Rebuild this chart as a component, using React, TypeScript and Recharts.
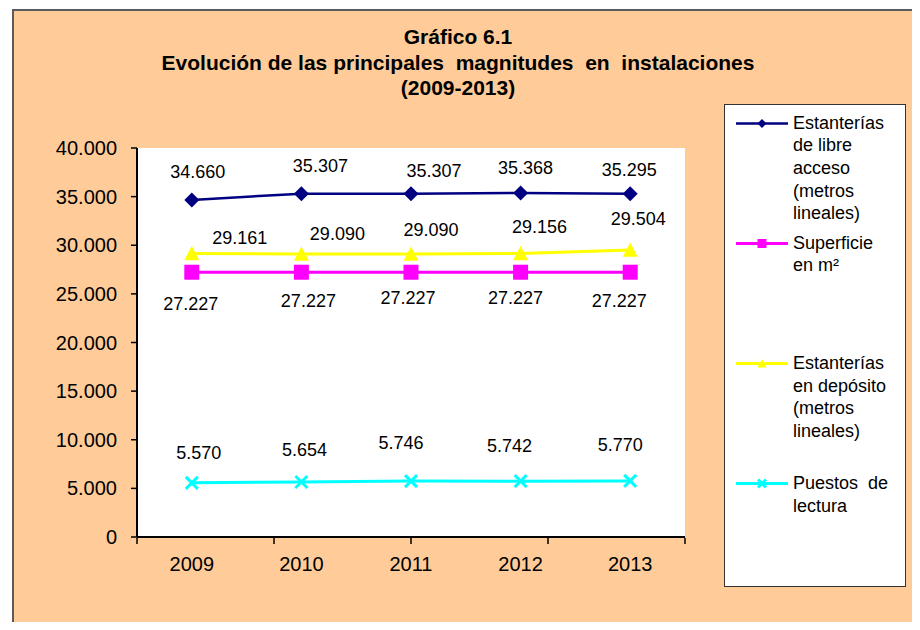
import React from 'react';
import { LineChart, Line, XAxis, YAxis, CartesianGrid, Legend, LabelList } from 'recharts';

// Gráfico 6.1 — evolución de las magnitudes de instalaciones, estilo Excel clásico.

const years = ['2009', '2010', '2011', '2012', '2013'];
const libreAcceso = [34660, 35307, 35307, 35368, 35295];
const superficie = [27227, 27227, 27227, 27227, 27227];
const deposito = [29161, 29090, 29090, 29156, 29504];
const puestos = [5570, 5654, 5746, 5742, 5770];
const yTicks = [0, 5000, 10000, 15000, 20000, 25000, 30000, 35000, 40000];
const titleLines = ['Gráfico 6.1', 'Evolución de las principales  magnitudes  en  instalaciones', '(2009-2013)'];

const FONT = '"Liberation Sans", Arial, sans-serif';
const PEACH = '#FFCC99';

type Shape = 'diamond' | 'square' | 'triangle' | 'cross';

// posición de cada etiqueta respecto a su punto (como quedaron en la hoja)
const series: Array<{
  key: string;
  name: string;
  color: string;
  width: number;
  shape: Shape;
  nudge: Array<[number, number]>;
}> = [
  { key: 'libre', name: 'Estanterías de libre acceso (metros lineales)', color: '#000080', width: 2.5, shape: 'diamond',
    nudge: [[6, -28], [19, -28], [23, -23], [5, -25], [-1, -24]] },
  { key: 'superficie', name: 'Superficie en m²', color: '#FF00FF', width: 3, shape: 'square',
    nudge: [[-1, 32], [7, 29], [-3, 26], [-5, 26], [-11, 29]] },
  { key: 'deposito', name: 'Estanterías en depósito (metros lineales)', color: '#FFFF00', width: 3, shape: 'triangle',
    nudge: [[48, -15], [36, -20], [20, -24], [19, -26], [8, -31]] },
  { key: 'puestos', name: 'Puestos  de lectura', color: '#00FFFF', width: 3, shape: 'cross',
    nudge: [[7, -30], [3, -32], [-10, -38], [-11, -35], [-10, -36]] },
];

const data = years.map((year, i) => ({
  year,
  libre: libreAcceso[i],
  superficie: superficie[i],
  deposito: deposito[i],
  puestos: puestos[i],
}));

const fmt = (v: number) => String(v).replace(/\B(?=(\d{3})+(?!\d))/g, '.');

function Marker({ shape, cx, cy, r, color }: { shape: Shape; cx: number; cy: number; r: number; color: string }) {
  if (shape === 'diamond') {
    return <polygon points={`${cx},${cy - r} ${cx + r},${cy} ${cx},${cy + r} ${cx - r},${cy}`} fill={color} />;
  }
  if (shape === 'square') {
    return <rect x={cx - r} y={cy - r} width={r * 2} height={r * 2} fill={color} />;
  }
  if (shape === 'triangle') {
    return <polygon points={`${cx},${cy - r} ${cx + r},${cy + r * 0.9} ${cx - r},${cy + r * 0.9}`} fill={color} />;
  }
  return (
    <g stroke={color} strokeWidth={3}>
      <line x1={cx - r} y1={cy - r} x2={cx + r} y2={cy + r} />
      <line x1={cx - r} y1={cy + r} x2={cx + r} y2={cy - r} />
    </g>
  );
}

function LegendBox({ payload }: any) {
  const shown = new Set((payload || []).map((p: any) => p.dataKey));
  const entries = series.filter(s => shown.size === 0 || shown.has(s.key));
  return (
    <div
      style={{
        width: 182,
        height: 483,
        boxSizing: 'border-box',
        border: '1px solid #333',
        background: '#fff',
        display: 'flex',
        flexDirection: 'column',
        fontFamily: FONT,
        fontSize: 18,
        lineHeight: '22.7px',
        color: '#000',
      }}
    >
      {entries.map(s => (
        <div key={s.key} style={{ flex: 1, display: 'flex', alignItems: 'flex-start', paddingTop: 6.5 }}>
          <svg width={52} height={23} style={{ marginLeft: 11, flex: 'none' }}>
            <line x1={0} y1={11.5} x2={52} y2={11.5} stroke={s.color} strokeWidth={s.width} />
            <Marker shape={s.shape} cx={26} cy={11.5} r={s.shape === 'cross' ? 4 : 4.5} color={s.color} />
          </svg>
          <div style={{ marginLeft: 5, width: 104, whiteSpace: 'pre-wrap' }}>{s.name}</div>
        </div>
      ))}
    </div>
  );
}

function makeLabel(nudge: Array<[number, number]>) {
  return (p: any) => {
    const [dx, dy] = nudge[p.index] || [0, -20];
    return (
      <text
        key={`lbl-${p.index}`}
        x={Number(p.x) + dx}
        y={Number(p.y) + dy}
        textAnchor="middle"
        dominantBaseline="central"
        fontFamily={FONT}
        fontSize={18}
        fill="#000"
      >
        {fmt(Number(p.value))}
      </text>
    );
  };
}

export default function App() {
  return (
    <div style={{ position: 'relative', width: 920, height: 630, overflow: 'hidden', background: '#fff', margin: -8 }}>
      <div
        style={{
          position: 'absolute',
          left: 12,
          top: 9,
          width: 920,
          height: 630,
          background: PEACH,
          borderLeft: '2px solid #5b5b5b',
          borderTop: '2px solid #5b5b5b',
        }}
      />
      <div
        style={{
          position: 'absolute',
          left: 0,
          top: 24,
          width: 916,
          textAlign: 'center',
          fontFamily: FONT,
          fontWeight: 'bold',
          fontSize: 21,
          lineHeight: '25.5px',
          color: '#000',
          whiteSpace: 'pre',
        }}
      >
        {titleLines.map(t => (
          <div key={t}>{t}</div>
        ))}
      </div>
      <div style={{ position: 'absolute', left: 0, top: 0 }}>
        <LineChart width={920} height={630} data={data} margin={{ top: 148, right: 235, left: 37, bottom: 91 }}>
          <CartesianGrid horizontal={false} vertical={false} fill="#fff" />
          <XAxis
            xAxisId="cat"
            dataKey="year"
            type="category"
            scale="band"
            axisLine={{ stroke: '#000', strokeWidth: 2 }}
            tickLine={false}
            tickSize={0}
            tickMargin={20}
            height={1}
            interval={0}
            tick={{ fontSize: 20, fill: '#000', fontFamily: FONT }}
          />
          {/* marcas del eje X entre categorías, como en Excel */}
          <XAxis
            xAxisId="frame"
            type="number"
            domain={[0, 5]}
            ticks={[0, 1, 2, 3, 4, 5]}
            tickFormatter={() => ''}
            height={1}
            tickSize={6}
            axisLine={false}
            tickLine={{ stroke: '#000', strokeWidth: 1.5 }}
            allowDataOverflow
          />
          <YAxis
            domain={[0, 40000]}
            ticks={yTicks}
            interval={0}
            width={100}
            tickSize={6}
            tickMargin={14}
            tickFormatter={fmt}
            axisLine={{ stroke: '#000', strokeWidth: 2 }}
            tickLine={{ stroke: '#000', strokeWidth: 1.5 }}
            tick={{ fontSize: 20, fill: '#000', fontFamily: FONT }}
          />
          <Legend
            layout="vertical"
            align="center"
            verticalAlign="middle"
            content={<LegendBox />}
            wrapperStyle={{ position: 'absolute', left: 724, top: 104, width: 182, height: 483 }}
          />
          {series.map(s => (
            <Line
              key={s.key}
              xAxisId="cat"
              dataKey={s.key}
              name={s.name}
              stroke={s.color}
              strokeWidth={s.width}
              isAnimationActive={false}
              dot={(p: any) => (
                <Marker
                  key={`dot-${s.key}-${p.index}`}
                  shape={s.shape}
                  cx={p.cx}
                  cy={p.cy}
                  r={s.shape === 'cross' ? 6 : 7.5}
                  color={s.color}
                />
              )}
              activeDot={false}
            >
              <LabelList dataKey={s.key} content={makeLabel(s.nudge)} />
            </Line>
          ))}
        </LineChart>
      </div>
    </div>
  );
}
